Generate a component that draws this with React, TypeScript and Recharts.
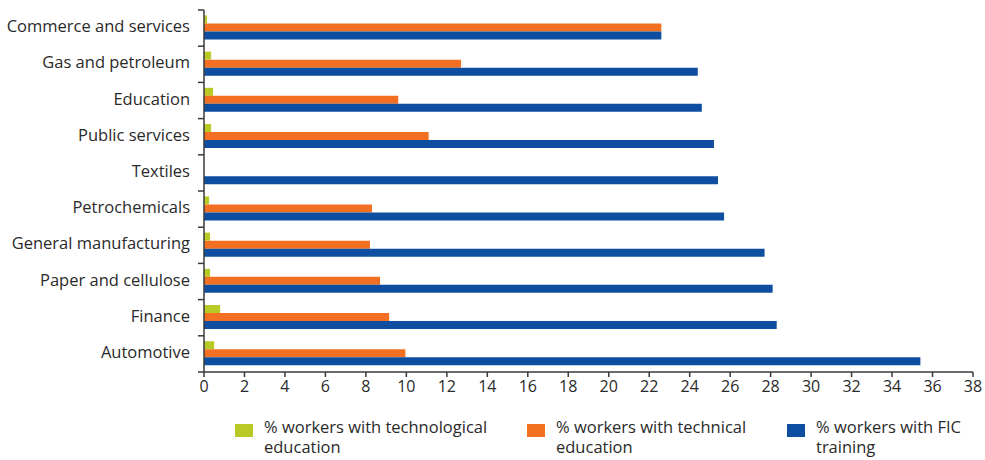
import React from "react";
import { BarChart, Bar, XAxis, YAxis, Legend } from "recharts";

const categories = [
  "Commerce and services",
  "Gas and petroleum",
  "Education",
  "Public services",
  "Textiles",
  "Petrochemicals",
  "General manufacturing",
  "Paper and cellulose",
  "Finance",
  "Automotive",
];
const technological = [0.15, 0.35, 0.45, 0.35, 0, 0.25, 0.3, 0.3, 0.8, 0.5];
const technical = [22.6, 12.7, 9.6, 11.1, 0, 8.3, 8.2, 8.7, 9.15, 9.95];
const ficTraining = [22.6, 24.4, 24.6, 25.2, 25.4, 25.7, 27.7, 28.1, 28.3, 35.4];
const xTicks = [0, 2, 4, 6, 8, 10, 12, 14, 16, 18, 20, 22, 24, 26, 28, 30, 32, 34, 36, 38];

const SERIES = [
  { key: "technological", name: "% workers with technological education", color: "#b9c925" },
  { key: "technical", name: "% workers with technical education", color: "#f37022" },
  { key: "fic", name: "% workers with FIC training", color: "#0d4ea1" },
];

const data = categories.map((name, i) => ({
  name,
  technological: technological[i],
  technical: technical[i],
  fic: ficTraining[i],
}));

const W = 985;
const H = 460;
const FONT = "'Open Sans', sans-serif";
const TEXT = "#2a2a2a";
const AXIS = "#3a3a3a";
const MARGIN = { top: 10, right: 12, bottom: 0, left: 0 };
const X_AXIS_H = 28;
const LEGEND_H = 60;
const PLOT_H = H - MARGIN.top - MARGIN.bottom - X_AXIS_H - LEGEND_H;
const HALF_BAND = PLOT_H / categories.length / 2;

const LEGEND_LEFT = [235, 527, 787];
const LEGEND_TEXT_W = [245, 210, 165];

function CategoryTick(props: any) {
  const { x, y, payload, index } = props;
  const half = payload && payload.offset ? payload.offset : HALF_BAND;
  const ax = x + 14;
  const last = index === categories.length - 1;
  return (
    <g>
      <line x1={ax - 6} x2={ax} y1={y - half} y2={y - half} stroke={AXIS} strokeWidth={1.5} />
      {last && <line x1={ax - 6} x2={ax} y1={y + half} y2={y + half} stroke={AXIS} strokeWidth={1.5} />}
      <text x={x} y={y} dy="0.25em" textAnchor="end" fill={TEXT} fontSize={16.5} fontFamily={FONT}>
        {payload.value}
      </text>
    </g>
  );
}

function LegendContent(props: any) {
  const payload = props.payload || [];
  const items = SERIES.map((s) => payload.find((p: any) => p.dataKey === s.key) || { value: s.name, color: s.color });
  return (
    <div style={{ position: "relative", width: W, height: LEGEND_H, fontFamily: FONT, fontSize: 16.5, color: TEXT }}>
      {items.map((p: any, i: number) => (
        <div key={i} style={{ position: "absolute", left: LEGEND_LEFT[i], top: 17, display: "flex", alignItems: "flex-start" }}>
          <span style={{ display: "inline-block", flex: "none", width: 18, height: 13, background: SERIES[i].color, marginTop: 7, marginRight: 11 }} />
          <span style={{ width: LEGEND_TEXT_W[i], lineHeight: "20px" }}>{p.value}</span>
        </div>
      ))}
    </div>
  );
}

export default function App() {
  return (
    <div style={{ position: "absolute", left: 0, top: 0, width: W, height: H, background: "#fff" }}>
      <BarChart
        width={W}
        height={H}
        data={data}
        layout="vertical"
        margin={MARGIN}
        barCategoryGap="15%"
        barGap={0}
      >
        <XAxis
          type="number"
          domain={[0, 38]}
          ticks={xTicks}
          interval={0}
          height={X_AXIS_H}
          tickSize={5}
          tickMargin={4}
          stroke={AXIS}
          strokeWidth={1.5}
          tick={{ fill: TEXT, fontSize: 16, fontFamily: FONT }}
        />
        <YAxis
          type="category"
          dataKey="name"
          width={204}
          tickLine={false}
          tickSize={6}
          tickMargin={8}
          interval={0}
          stroke={AXIS}
          strokeWidth={1.5}
          tick={<CategoryTick />}
        />
        <Legend
          verticalAlign="bottom"
          height={LEGEND_H}
          width={W}
          wrapperStyle={{ left: 0, bottom: 0 }}
          content={<LegendContent />}
        />
        {SERIES.map((s) => (
          <Bar key={s.key} dataKey={s.key} name={s.name} fill={s.color} isAnimationActive={false} />
        ))}
      </BarChart>
    </div>
  );
}
